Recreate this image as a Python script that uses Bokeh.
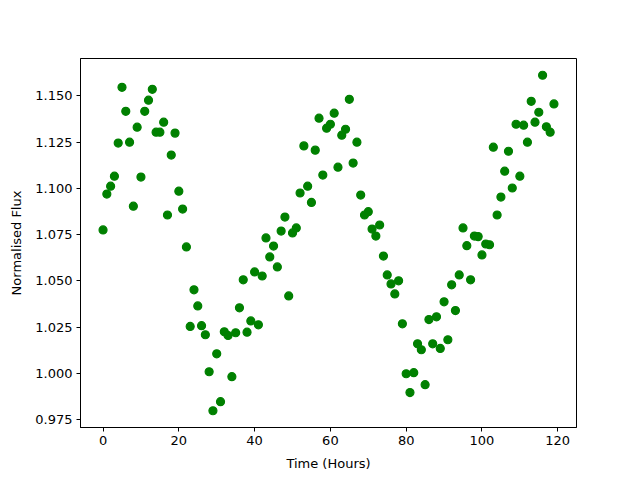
from bokeh.plotting import figure
from bokeh.models import Range1d, FixedTicker, PrintfTickFormatter, ColumnDataSource
from bokeh.embed import file_html
from bokeh.resources import INLINE

hours = list(range(120))
flux = [
    1.0775, 1.0969, 1.1012, 1.1066, 1.1245, 1.1547, 1.1417, 1.1250, 1.0904, 1.1331,
    1.1061, 1.1417, 1.1477, 1.1536, 1.1304, 1.1304, 1.1358, 1.0856, 1.1180, 1.1299,
    1.0985, 1.0888, 1.0683, 1.0253, 1.0451, 1.0364, 1.0257, 1.0208, 1.0008, 0.9797,
    1.0105, 0.9846, 1.0224, 1.0204, 0.9981, 1.0219, 1.0354, 1.0505, 1.0222, 1.0283,
    1.0548, 1.0262, 1.0526, 1.0732, 1.0629, 1.0688, 1.0575, 1.0769, 1.0845, 1.0418,
    1.0759, 1.0786, 1.0975, 1.1230, 1.1012, 1.0924, 1.1207, 1.1380, 1.1072, 1.1326,
    1.1347, 1.1407, 1.1115, 1.1288, 1.1320, 1.1482, 1.1137, 1.1250, 1.0964, 1.0856,
    1.0874, 1.0780, 1.0742, 1.0802, 1.0634, 1.0532, 1.0483, 1.0429, 1.0500, 1.0267,
    0.9997, 0.9895, 1.0003, 1.0159, 1.0127, 0.9938, 1.0290, 1.0159, 1.0305, 1.0134,
    1.0386, 1.0181, 1.0478, 1.0339, 1.0532, 1.0786, 1.0690, 1.0505, 1.0742, 1.0739,
    1.0640, 1.0699, 1.0695, 1.1223, 1.0856, 1.0953, 1.1093, 1.1201, 1.1002, 1.1347,
    1.1066, 1.1342, 1.1250, 1.1471, 1.1358, 1.1412, 1.1612, 1.1333, 1.1304, 1.1457,
]
x_ticks = [0, 20, 40, 60, 80, 100, 120]
y_ticks = [0.975, 1.000, 1.025, 1.050, 1.075, 1.100, 1.125, 1.150]

src = ColumnDataSource(dict(x=hours, y=flux))

xpad = (max(hours) - min(hours)) * 0.05
ypad = (max(flux) - min(flux)) * 0.05

p = figure(
    output_backend="svg", toolbar_location=None,
    frame_width=496, frame_height=369,
    min_border_left=80, min_border_top=58, min_border_right=56, min_border_bottom=45,
    x_range=Range1d(min(hours) - xpad, max(hours) + xpad),
    y_range=Range1d(min(flux) - ypad, max(flux) + ypad),
    background_fill_color="white", border_fill_color="white",
)
p.scatter("x", "y", source=src, size=8, fill_color="#008000", line_color="#008000", line_width=1.2)

p.xgrid.visible = False
p.ygrid.visible = False
p.outline_line_color = "black"
p.outline_line_width = 1
p.outline_line_alpha = 1

p.xaxis.ticker = FixedTicker(ticks=x_ticks)
p.yaxis.ticker = FixedTicker(ticks=y_ticks)
p.yaxis.formatter = PrintfTickFormatter(format="%.3f")
p.xaxis.axis_label = "Time (Hours)"
p.yaxis.axis_label = "Normalised Flux"

for ax in (p.xaxis, p.yaxis):
    ax.axis_line_color = "black"
    ax.axis_line_width = 1
    ax.major_tick_line_color = "black"
    ax.major_tick_in = 0
    ax.major_tick_out = 4
    ax.minor_tick_line_color = None
    ax.major_label_text_font = "DejaVu Sans"
    ax.major_label_text_font_size = "13px"
    ax.major_label_text_color = "black"
    ax.axis_label_text_font = "DejaVu Sans"
    ax.axis_label_text_font_size = "13px"
    ax.axis_label_text_font_style = "normal"
    ax.axis_label_text_color = "black"
    ax.major_label_standoff = 4
p.xaxis.axis_label_standoff = 8
p.yaxis.axis_label_standoff = 8

open("out.html", "w").write(file_html(p, INLINE))
